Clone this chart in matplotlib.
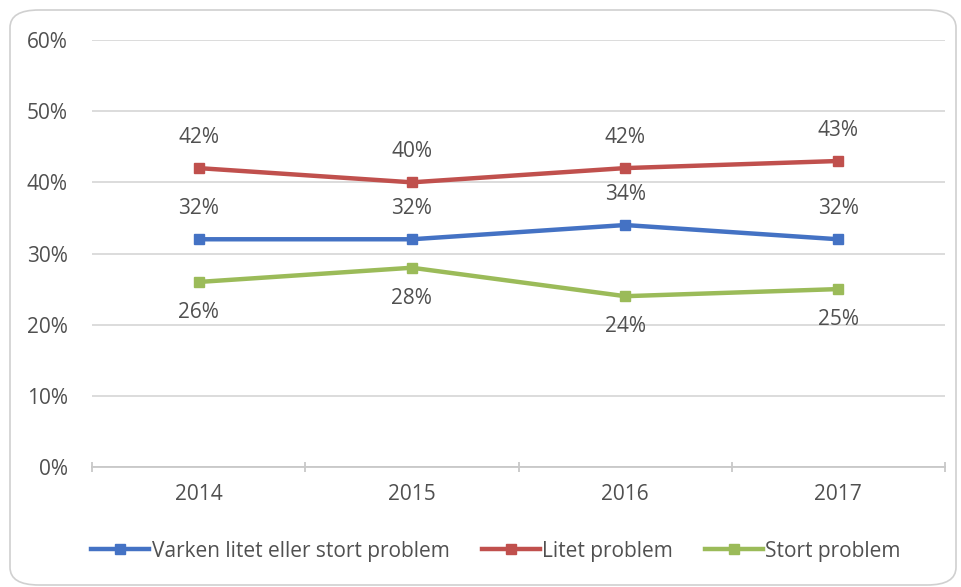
import matplotlib
matplotlib.use("Agg")
import matplotlib.pyplot as plt
from matplotlib.patches import FancyBboxPatch
from matplotlib.ticker import FuncFormatter, FixedLocator

years = ["2014", "2015", "2016", "2017"]
varken = [32, 32, 34, 32]
litet = [42, 40, 42, 43]
stort = [26, 28, 24, 25]
series_names = ["Varken litet eller stort problem", "Litet problem", "Stort problem"]
colors = ["#4472C4", "#C0504D", "#9BBB59"]
yticks = [0, 10, 20, 30, 40, 50, 60]

plt.rcParams['font.family'] = ['Open Sans', 'DejaVu Sans']
text_color = "#505050"
fs = 15

fig = plt.figure(figsize=(9.62, 5.87), dpi=100)
frame = FancyBboxPatch((10/962, 2/587), 946/962, 575/587,
                       boxstyle="round,pad=0,rounding_size=0.03",
                       transform=fig.transFigure, facecolor="white",
                       edgecolor="#D0D0D0", linewidth=1.2, zorder=-5)
fig.patches.append(frame)

ax = fig.add_axes([92/962, 1 - 467/587, (945 - 92)/962, (467 - 40)/587])
ax.set_zorder(2)
ax.set_facecolor("none")
x = list(range(len(years)))

data = [varken, litet, stort]
offsets = [(0, 22), (0, 22), (0, -22)]
for vals, name, c, off in zip(data, series_names, colors, offsets):
    ax.plot(x, vals, color=c, lw=3.2, marker="s", ms=7.5, label=name, zorder=3)
    for xi, v in zip(x, vals):
        ax.annotate(f"{v}%", (xi, v), xytext=off, textcoords="offset points",
                    ha="center", va="center", fontsize=fs, color=text_color)

ax.set_xlim(-0.5, len(years) - 0.5)
ax.set_ylim(0, 60)
ax.set_yticks(yticks)
ax.yaxis.set_major_formatter(FuncFormatter(lambda v, p: f"{int(v)}%"))
ax.set_xticks(x)
ax.set_xticklabels(years)
ax.xaxis.set_minor_locator(FixedLocator([i - 0.5 for i in range(len(years) + 1)]))
ax.grid(axis="y", color="#D9D9D9", lw=1.3, zorder=0)
for s in ["top", "right", "left"]:
    ax.spines[s].set_visible(False)
ax.spines["bottom"].set_color("#C8C8C8")
ax.spines["bottom"].set_linewidth(1.3)
ax.tick_params(axis="y", length=0, labelsize=fs, labelcolor=text_color, pad=17.5)
ax.tick_params(axis="x", which="major", length=0, labelsize=fs, labelcolor=text_color, pad=12)
ax.tick_params(axis="x", which="minor", length=7, direction="inout", color="#C8C8C8", width=1.3)

leg = fig.legend(loc="center", bbox_to_anchor=(496/962, 1 - 551/587), ncol=3, frameon=False,
                 fontsize=fs, handlelength=2.8, handletextpad=0.1, columnspacing=1.55,
                 labelcolor=text_color)

fig.savefig("out.png", dpi=100)
